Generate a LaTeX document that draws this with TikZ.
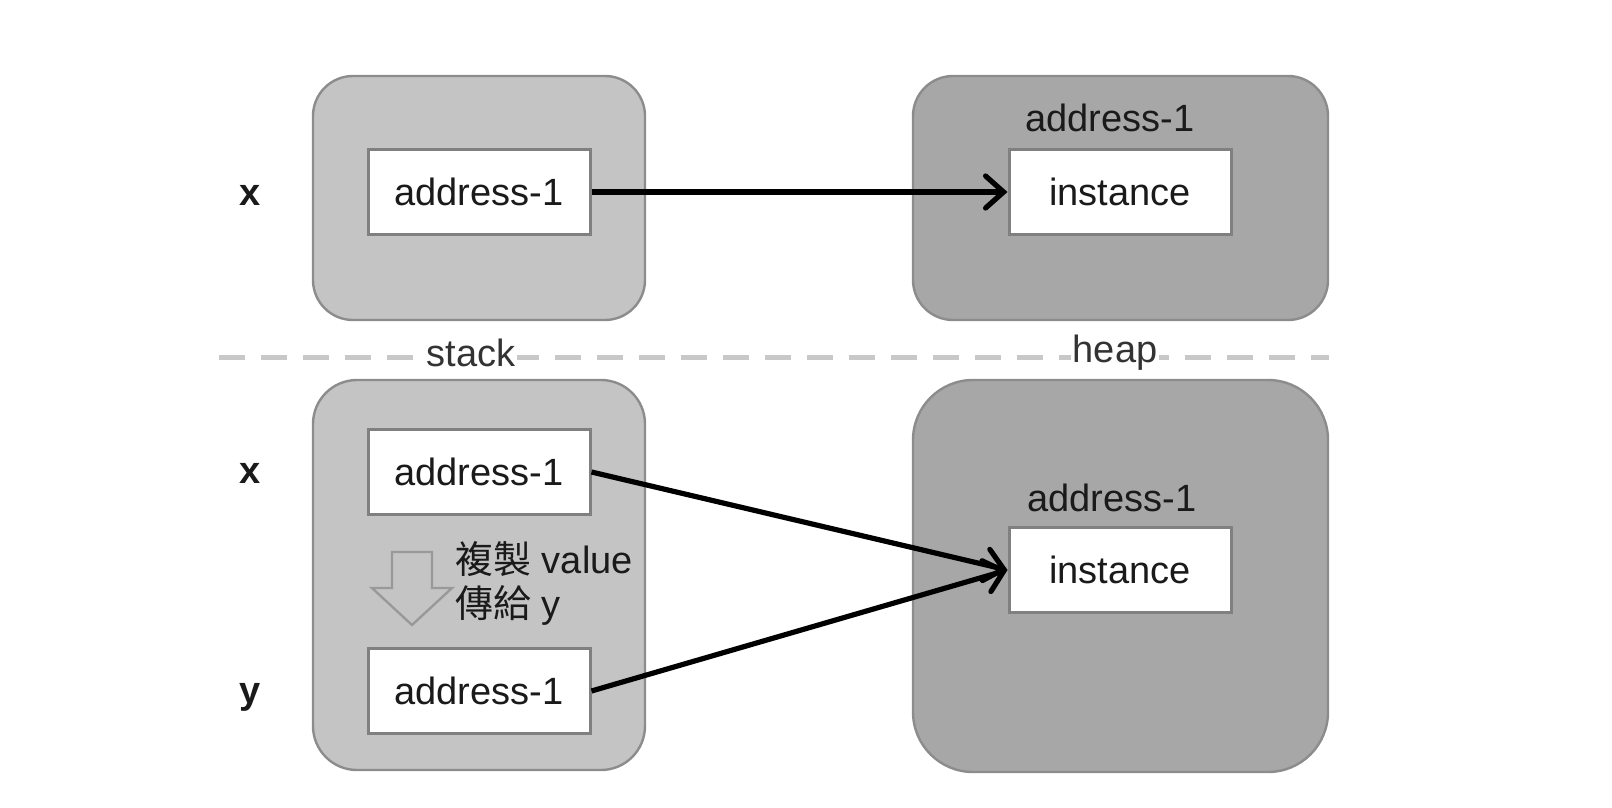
\documentclass[tikz,border=0pt]{standalone}
\usepackage{fontspec}
\setmainfont{Liberation Sans}
\newfontfamily\cjk{Noto Sans CJK TC}
\usetikzlibrary{arrows.meta}
\definecolor{stackfill}{HTML}{C4C4C4}
\definecolor{heapfill}{HTML}{A7A7A7}
\definecolor{outline}{HTML}{8C8C8C}
\definecolor{innerline}{HTML}{808080}
\definecolor{dashcol}{HTML}{C8C8C8}
\definecolor{txt}{HTML}{1A1A1A}
\begin{document}
\begin{tikzpicture}[x=0.5pt,y=-0.5pt,
  every node/.style={font=\fontsize{19pt}{22pt}\selectfont, text=txt},
  stackbox/.style={draw=outline, line width=1.2pt, fill=stackfill, rounded corners=20pt, inner sep=0pt},
  heapbox/.style={draw=outline, line width=1.2pt, fill=heapfill, rounded corners=20pt, inner sep=0pt},
  cell/.style={draw=innerline, line width=1.5pt, fill=white, minimum width=111pt, minimum height=42.5pt, inner sep=0pt},
  conn/.style={line width=2.6pt, draw=black, -{Straight Barb[length=9pt,width=16pt,line cap=round]}},
  varlabel/.style={font=\bfseries\fontsize{19pt}{22pt}\selectfont},
  arealabel/.style={fill=white, inner sep=1pt, text=black!80},
]
\useasboundingbox (0,0) rectangle (1612,808);
% outer boxes
\node[stackbox, minimum width=166pt, minimum height=122pt] (s1) at (479,198) {};
\node[heapbox, minimum width=207.5pt, minimum height=122pt] (h1) at (1120.5,198) {};
\node[stackbox, minimum width=166pt, minimum height=195pt, rounded corners=22pt] (s2) at (479,575) {};
\node[heapbox, minimum width=207.5pt, minimum height=196pt, rounded corners=30pt] (h2) at (1120.5,576) {};
% separator
\coordinate (dl) at (219,357);
\coordinate (dr) at (1329,357);
\draw[dashcol, line width=2.5pt, dash pattern=on 13pt off 8pt] (dl) -- (dr);
\node[arealabel] (stk) at (471,353) {stack};
\node[arealabel] (hp) at (1115,353) {heap};
% top row
\node[varlabel] (x1) at (250,195) {x};
\node[cell] (a1) at (479,192) {address-1};
\node (l1) at (1110,118) {address-1};
\node[cell] (i1) at (1120,192) {instance};
\draw[conn] (a1.east) -- (i1.west);
% bottom row
\node[varlabel] (x2) at (250,473) {x};
\node[varlabel] (y2) at (250,697) {y};
\node[cell] (a2) at (479,472) {address-1};
\node[cell] (a3) at (479,691) {address-1};
\node (l2) at (1112,498) {address-1};
\node[cell] (i2) at (1120,570) {instance};
\draw[conn] (a2.east) -- (i2.west);
\draw[conn] (a3.east) -- (i2.west);
% hollow copy arrow
\draw[draw=black!40, line width=1.2pt, fill=stackfill, line join=miter]
  (392,552) -- (432,552) -- (432,588) -- (452,588) -- (412,625) -- (372,588) -- (392,588) -- cycle;
\node[anchor=west, align=left, inner sep=0pt] (cp) at (455,583) {{\cjk 複製} value\\{\cjk 傳給} y};
\end{tikzpicture}
\end{document}
